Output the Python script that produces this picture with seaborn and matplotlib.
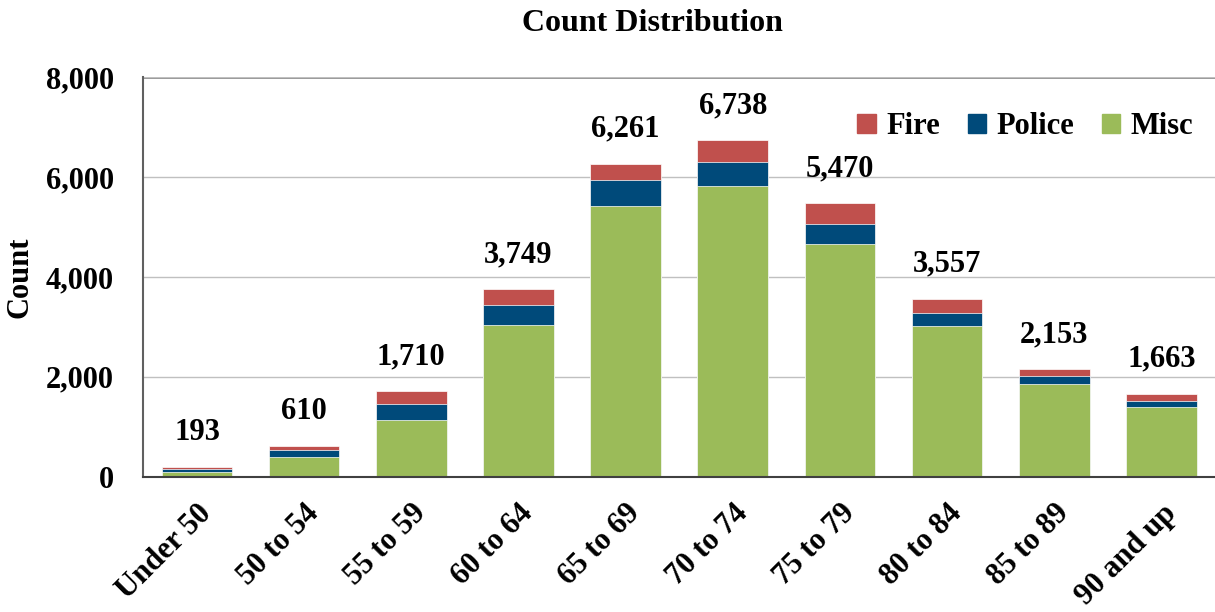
import numpy as np
import pandas as pd
import matplotlib
matplotlib.use("Agg")
import matplotlib.pyplot as plt
import seaborn as sns
from matplotlib.patches import Patch

sns.set_theme(style="white")
plt.rcParams['font.family'] = ['Liberation Serif', 'DejaVu Serif']
plt.rcParams['font.weight'] = 'bold'
plt.rcParams['text.color'] = 'black'
plt.rcParams['axes.labelcolor'] = 'black'
plt.rcParams['xtick.color'] = 'black'
plt.rcParams['ytick.color'] = 'black'

# data
age_groups = ["Under 50", "50 to 54", "55 to 59", "60 to 64", "65 to 69",
              "70 to 74", "75 to 79", "80 to 84", "85 to 89", "90 and up"]
misc = [100, 400, 1130, 3030, 5410, 5820, 4665, 3010, 1855, 1390]
police = [60, 130, 320, 400, 540, 490, 385, 265, 160, 130]
fire = [33, 80, 260, 319, 311, 428, 420, 282, 138, 143]

df = pd.DataFrame({"Age": age_groups, "Misc": misc, "Police": police, "Fire": fire})
df["MiscPolice"] = df["Misc"] + df["Police"]
df["Total"] = df["MiscPolice"] + df["Fire"]

c_fire = "#C0504D"
c_police = "#004A7A"
c_misc = "#9BBB59"

fs = 22

fig = plt.figure(figsize=(12.15, 6.12), dpi=100)
ax = fig.add_axes([0.118, 0.221, 0.882, 0.653])

# stacked bars: draw cumulative totals back to front
sns.barplot(data=df, x="Age", y="Total", color=c_fire, width=0.66,
            saturation=1, edgecolor="white", linewidth=0.5, ax=ax)
sns.barplot(data=df, x="Age", y="MiscPolice", color=c_police, width=0.66,
            saturation=1, edgecolor="white", linewidth=0.5, ax=ax)
sns.barplot(data=df, x="Age", y="Misc", color=c_misc, width=0.66,
            saturation=1, edgecolor="white", linewidth=0.5, ax=ax)

# total labels above bars
for i, tot in enumerate(df["Total"]):
    ax.annotate(f"{tot:,}", (i, tot), xytext=(0, 25), textcoords="offset points",
                ha="center", va="center", fontsize=fs, fontweight="bold",
                color="black")

ax.set_ylim(0, 8000)
ax.set_yticks([0, 2000, 4000, 6000, 8000])
ax.set_yticklabels([f"{v:,}" for v in [0, 2000, 4000, 6000, 8000]],
                   fontsize=fs, fontweight="bold")
ax.set_xlim(-0.5, 9.5)
ax.set_xticks(range(len(age_groups)))
ax.set_xticklabels(age_groups, rotation=45, ha="right", rotation_mode="anchor",
                   fontsize=fs, fontweight="bold")
ax.tick_params(axis="x", length=0, pad=16)
ax.tick_params(axis="y", length=0, pad=21)

ax.yaxis.grid(True, color="#C0C0C0", linewidth=1)
ax.set_axisbelow(True)
for s in ["top", "right"]:
    ax.spines[s].set_visible(False)
ax.axhline(8000, color="#888888", linewidth=2, zorder=0.5)
ax.spines["left"].set_color("#606060")
ax.spines["left"].set_linewidth(1.5)
ax.spines["bottom"].set_color("#404040")
ax.spines["bottom"].set_linewidth(1.5)

ax.set_xlabel("")
ax.set_ylabel("Count", fontsize=fs, fontweight="bold", labelpad=8)
fig.text(0.537, 0.962, "Count Distribution", ha="center", va="center",
         fontsize=23, fontweight="bold")

handles = [Patch(color=c_fire, label="Fire"),
           Patch(color=c_police, label="Police"),
           Patch(color=c_misc, label="Misc")]
leg = ax.legend(handles=handles, ncol=3, frameon=False, loc="upper right",
                bbox_to_anchor=(1.0, 0.965), prop={"size": fs, "weight": "bold"},
                handlelength=0.6, handleheight=0.6, handletextpad=0.35,
                columnspacing=0.9, borderaxespad=0.3)

fig.savefig("out.png", dpi=100)
